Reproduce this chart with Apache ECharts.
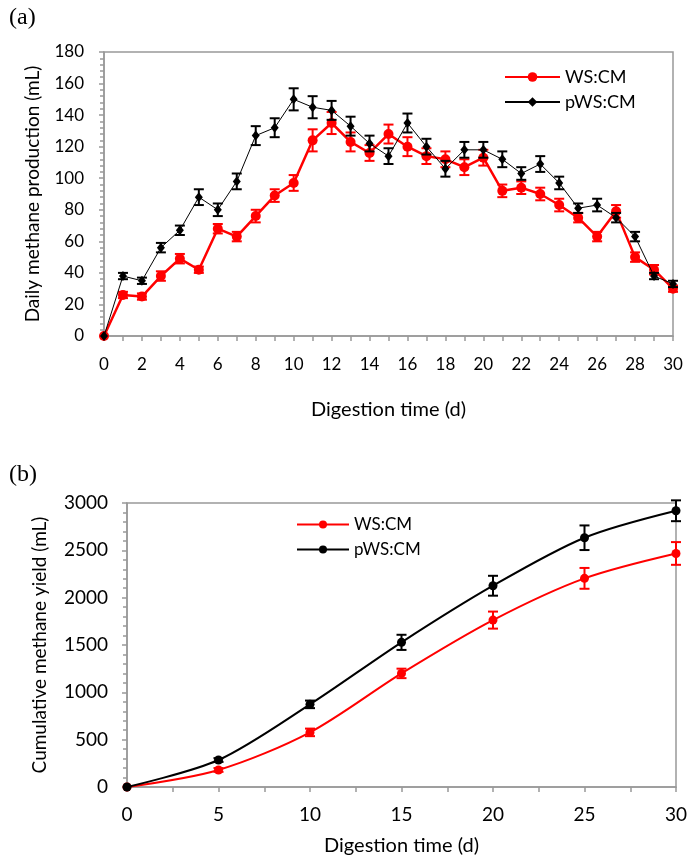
<!DOCTYPE html>
<html>
<head>
<meta charset="utf-8">
<script src="https://cdn.jsdelivr.net/npm/echarts@6/dist/echarts.min.js"></script>
<style>
  html, body { margin: 0; padding: 0; background: #fff; }
  #chart { width: 699px; height: 859px; }
</style>
</head>
<body>
<div id="chart"></div>
<script>
// panel (a): daily methane production
const days = [0, 1, 2, 3, 4, 5, 6, 7, 8, 9, 10, 11, 12, 13, 14, 15, 16, 17, 18, 19, 20, 21, 22, 23, 24, 25, 26, 27, 28, 29, 30]
const dailyWS = [0, 26, 25, 38, 49, 42, 68, 63, 76, 89, 97, 124, 135, 123, 116, 128, 120, 114, 112, 107, 113, 92, 94, 90, 83, 75, 63, 79, 50, 42, 30]
const dailyWSErr = [0, 2, 2, 3, 3, 2, 3, 3, 4, 4, 5, 7, 7, 6, 5, 6, 6, 5, 5, 5, 5, 4, 4, 4, 4, 3, 3, 4, 3, 3, 2]
const dailyPWS = [0, 38, 35, 56, 67, 88, 80, 98, 127, 132, 150, 145, 143, 133, 122, 114, 135, 120, 106, 118, 118, 112, 103, 109, 97, 81, 83, 75, 63, 38, 33]
const dailyPWSErr = [0, 2, 2, 3, 3, 5, 4, 5, 6, 6, 7, 7, 6, 6, 5, 5, 6, 5, 5, 5, 5, 5, 4, 5, 4, 3, 4, 3, 3, 2, 2]

// panel (b): cumulative methane yield
const cumDays = [0, 5, 10, 15, 20, 25, 30]
const cumWS = [0, 180, 577, 1200, 1763, 2204, 2467]
const cumWSErr = [0, 20, 40, 50, 90, 110, 120]
const cumPWS = [0, 285, 873, 1528, 2126, 2633, 2918]
const cumPWSErr = [0, 20, 40, 80, 105, 130, 110]

const RED = '#ff0000'
const BLACK = '#000000'
const FONT = 'Lato'
const GREY = '#999'

const pairs = (xs, ys) => xs.map((x, i) => [x, ys[i]])
const triples = (xs, ys, es) => xs.map((x, i) => [x, ys[i], es[i]])

function errorBars (color, cap, lw) {
  return function (params, api) {
    const x = api.value(0)
    const y = api.value(1)
    const e = api.value(2)
    if (!e) return null
    const hi = api.coord([x, y + e])
    const lo = api.coord([x, y - e])
    const style = { stroke: color, lineWidth: lw }
    return {
      type: 'group',
      children: [
        { type: 'line', shape: { x1: hi[0], y1: hi[1], x2: lo[0], y2: lo[1] }, style: style },
        { type: 'line', shape: { x1: hi[0] - cap, y1: hi[1], x2: hi[0] + cap, y2: hi[1] }, style: style },
        { type: 'line', shape: { x1: lo[0] - cap, y1: lo[1], x2: lo[0] + cap, y2: lo[1] }, style: style }
      ]
    }
  }
}

function axis (labelSize, labelMargin, nameSize, extra) {
  return Object.assign({
    axisLine: { show: true, onZero: false, lineStyle: { color: GREY, width: 1.5 } },
    axisTick: { show: true, inside: false, length: 5, lineStyle: { color: GREY, width: 1.5 } },
    axisLabel: { color: '#000', fontSize: labelSize, fontFamily: FONT, margin: labelMargin, formatter: v => String(v) },
    splitLine: { show: false },
    nameLocation: 'middle',
    nameTextStyle: { color: '#000', fontSize: nameSize, fontFamily: FONT }
  }, extra)
}

const option = {
  backgroundColor: '#fff',
  animation: false,
  graphic: [
    { type: 'text', left: 9, top: 6, style: { text: '(a)', fontSize: 24, fontFamily: 'Liberation Serif', fill: '#000' } },
    { type: 'text', left: 9, top: 463, style: { text: '(b)', fontSize: 24, fontFamily: 'Liberation Serif', fill: '#000' } }
  ],
  grid: [
    { left: 104, top: 52, width: 569, height: 284, show: true, borderColor: GREY, borderWidth: 1.5, backgroundColor: 'transparent' },
    { left: 127, top: 503, width: 549, height: 284, show: true, borderColor: GREY, borderWidth: 1.5, backgroundColor: 'transparent' }
  ],
  legend: [
    {
      left: 499, top: 63, orient: 'vertical', itemWidth: 55, itemHeight: 12, itemGap: 7,
      data: ['WS:CM', 'pWS:CM'],
      textStyle: { color: '#000', fontSize: 18, fontFamily: FONT }
    },
    {
      left: 291, top: 511, orient: 'vertical', itemWidth: 52, itemHeight: 10, itemGap: 8,
      data: ['WS:CM ', 'pWS:CM '],
      formatter: name => name.trim(),
      textStyle: { color: '#000', fontSize: 17, fontFamily: FONT }
    }
  ],
  xAxis: [
    axis(17, 20, 20, {
      gridIndex: 0, type: 'value', min: 0, max: 30, interval: 2,
      minorTick: { show: true, splitNumber: 2, length: 5, lineStyle: { color: GREY, width: 1.5 } },
      name: 'Digestion time (d)', nameGap: 64
    }),
    axis(19, 18, 20, {
      gridIndex: 1, type: 'value', min: 0, max: 30, interval: 5,
      minorTick: { show: true, splitNumber: 2, length: 5, lineStyle: { color: GREY, width: 1.5 } },
      name: 'Digestion time (d)', nameGap: 49
    })
  ],
  yAxis: [
    axis(17, 20, 19, {
      gridIndex: 0, type: 'value', min: 0, max: 180, interval: 20,
      minorTick: { show: true, splitNumber: 5, length: 4, lineStyle: { color: GREY, width: 1.5 } },
      name: 'Daily methane production (mL)', nameGap: 62
    }),
    axis(19, 19, 19, {
      gridIndex: 1, type: 'value', min: 0, max: 3000, interval: 500,
      minorTick: { show: true, splitNumber: 5, length: 4, lineStyle: { color: GREY, width: 1.5 } },
      name: 'Cumulative methane yield (mL)', nameGap: 78
    })
  ],
  series: [
    {
      name: 'WS:CM', type: 'line', xAxisIndex: 0, yAxisIndex: 0, z: 2,
      data: pairs(days, dailyWS),
      symbol: 'circle', symbolSize: 10,
      lineStyle: { color: RED, width: 2.5 },
      itemStyle: { color: RED }
    },
    {
      type: 'custom', xAxisIndex: 0, yAxisIndex: 0, z: 3,
      data: triples(days, dailyWS, dailyWSErr),
      encode: { x: 0, y: 1 },
      renderItem: errorBars(RED, 5, 2)
    },
    {
      name: 'pWS:CM', type: 'line', xAxisIndex: 0, yAxisIndex: 0, z: 4,
      data: pairs(days, dailyPWS),
      symbol: 'diamond', symbolSize: [8, 10],
      lineStyle: { color: BLACK, width: 1 },
      itemStyle: { color: BLACK }
    },
    {
      type: 'custom', xAxisIndex: 0, yAxisIndex: 0, z: 5,
      data: triples(days, dailyPWS, dailyPWSErr),
      encode: { x: 0, y: 1 },
      renderItem: errorBars(BLACK, 5, 2)
    },
    {
      name: 'WS:CM ', type: 'line', xAxisIndex: 1, yAxisIndex: 1, z: 2,
      data: pairs(cumDays, cumWS), smooth: 0.3,
      symbol: 'circle', symbolSize: 9,
      lineStyle: { color: RED, width: 2 },
      itemStyle: { color: RED }
    },
    {
      type: 'custom', xAxisIndex: 1, yAxisIndex: 1, z: 3,
      data: triples(cumDays, cumWS, cumWSErr),
      encode: { x: 0, y: 1 },
      renderItem: errorBars(RED, 5, 2)
    },
    {
      name: 'pWS:CM ', type: 'line', xAxisIndex: 1, yAxisIndex: 1, z: 4,
      data: pairs(cumDays, cumPWS), smooth: 0.3,
      symbol: 'circle', symbolSize: 9,
      lineStyle: { color: BLACK, width: 2 },
      itemStyle: { color: BLACK }
    },
    {
      type: 'custom', xAxisIndex: 1, yAxisIndex: 1, z: 5,
      data: triples(cumDays, cumPWS, cumPWSErr),
      encode: { x: 0, y: 1 },
      renderItem: errorBars(BLACK, 5, 2)
    }
  ]
}

const chart = echarts.init(document.getElementById('chart'), null, { renderer: 'canvas' })
chart.setOption(option)
window.addEventListener('resize', () => chart.resize())
</script>
</body>
</html>
